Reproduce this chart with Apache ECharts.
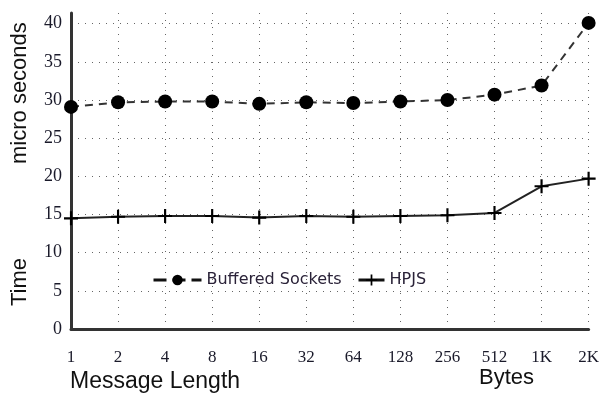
<!DOCTYPE html>
<html><head><meta charset="utf-8">
<script src="https://cdn.jsdelivr.net/npm/echarts@6/dist/echarts.min.js"></script>
<style>html,body{margin:0;padding:0;background:#fff}#c{width:602px;height:394px}</style>
</head><body><div id="c"></div>
<script>
const categories = ['1','2','4','8','16','32','64','128','256','512','1K','2K'];
const bufferedSockets = [29.1, 29.7, 29.8, 29.8, 29.5, 29.7, 29.6, 29.8, 30.0, 30.7, 31.9, 40.1];
const hpjs = [14.5, 14.7, 14.8, 14.8, 14.6, 14.8, 14.7, 14.8, 14.9, 15.2, 18.7, 19.7];
const yTicks = [0, 5, 10, 15, 20, 25, 30, 35, 40];

const chart = echarts.init(document.getElementById('c'), null, {renderer: 'canvas'});
const plus = 'path://M5.5,0H7.5V5.5H13V7.5H7.5V13H5.5V7.5H0V5.5H5.5Z';
const serif = '"Liberation Serif", "DejaVu Serif", serif';
const sans = '"Liberation Sans", Arial, sans-serif';
const legendText = {fontFamily: '"DejaVu Sans", sans-serif', fontSize: 16, color: '#2a2238'};
chart.setOption({
  animation: false,
  grid: {left: 71, right: 11, top: 13, bottom: 65},
  legend: [
    {left: 147, top: 267, itemWidth: 48, itemHeight: 13, itemGap: 6,
     lineStyle: {type: [13, 6], width: 3, color: '#111'},
     textStyle: legendText, data: ['Buffered Sockets']},
    {left: 352, top: 267, itemWidth: 26, itemHeight: 14,
     lineStyle: {width: 3, color: '#111'},
     textStyle: legendText, data: ['HPJS']}
  ],
  xAxis: {
    type: 'category', data: categories, boundaryGap: false,
    axisLine: {lineStyle: {color: '#333', width: 3}},
    axisTick: {show: false},
    axisLabel: {fontFamily: serif, fontSize: 17, color: '#1a1a2a', margin: 20},
    splitLine: {show: true, lineStyle: {color: '#666', type: [1, 6], width: 1}}
  },
  yAxis: {
    type: 'value', min: 0, max: 41.4, interval: 5,
    axisLine: {show: true, lineStyle: {color: '#333', width: 3}},
    axisTick: {show: false},
    axisLabel: {fontFamily: serif, fontSize: 18, color: '#1a1a2a', margin: 9,
      showMaxLabel: false,
      formatter: v => yTicks.includes(v) ? String(v) : ''},
    splitLine: {show: true, showMaxLine: false, lineStyle: {color: '#666', type: [1, 6], width: 1}}
  },
  graphic: [
    {type: 'text', left: 70, top: 370, style: {text: 'Message Length', font: '23px ' + sans, fill: '#111'}},
    {type: 'text', left: 479, top: 367, style: {text: 'Bytes', font: '22px ' + sans, fill: '#111'}},
    {type: 'text', x: 9, y: 164, rotation: Math.PI / 2, style: {text: 'micro seconds', font: '22px ' + sans, fill: '#111', verticalAlign: 'top'}},
    {type: 'text', x: 9, y: 306, rotation: Math.PI / 2, style: {text: 'Time', font: '22px ' + sans, fill: '#111', verticalAlign: 'top'}}
  ],
  series: [
    {
      name: 'Buffered Sockets', type: 'line', data: bufferedSockets,
      symbol: 'circle', symbolSize: 14,
      itemStyle: {color: '#000'},
      lineStyle: {color: '#333', width: 2, type: [8, 6]}
    },
    {
      name: 'HPJS', type: 'line', data: hpjs,
      symbol: plus, symbolSize: 14,
      itemStyle: {color: '#000'},
      lineStyle: {color: '#222', width: 2}
    }
  ]
});
</script></body></html>
